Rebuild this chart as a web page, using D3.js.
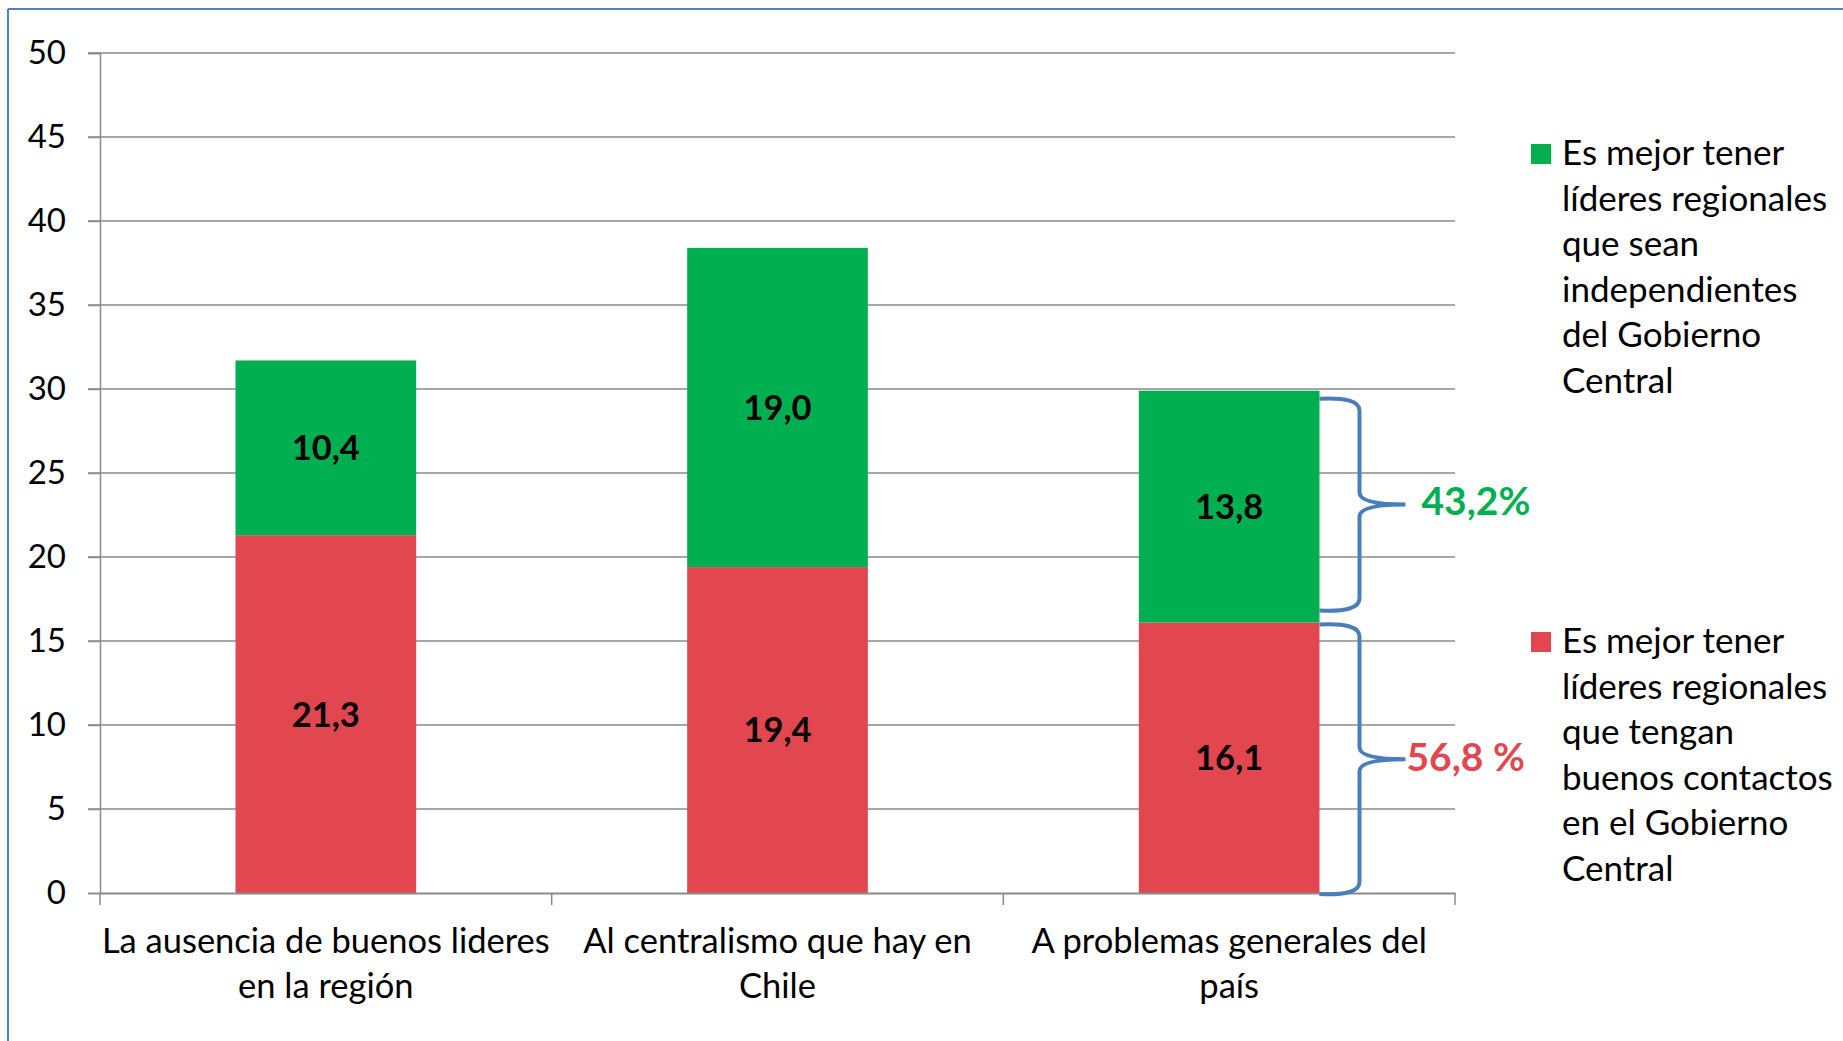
<!DOCTYPE html>
<html>
<head>
<meta charset="utf-8">
<script src="https://cdn.jsdelivr.net/npm/d3@7"></script>
<style>
  html, body { margin: 0; padding: 0; background: #fff; }
  svg { display: block; }
  text { font-family: Lato, "Open Sans", sans-serif; fill: #000; }
</style>
</head>
<body>
<svg id="chart" width="1843" height="1041"></svg>
<script>
// ---- data ----
const categories = [
  ["La ausencia de buenos lideres", "en la región"],
  ["Al centralismo que hay en", "Chile"],
  ["A problemas generales del", "país"]
];
const contactos = [21.3, 19.4, 16.1];       // red series (bottom)
const independientes = [10.4, 19.0, 13.8];  // green series (top)
const yTicks = [0, 5, 10, 15, 20, 25, 30, 35, 40, 45, 50];
const legendIndependientes = ["Es mejor tener", "líderes regionales", "que sean", "independientes", "del Gobierno", "Central"];
const legendContactos = ["Es mejor tener", "líderes regionales", "que tengan", "buenos contactos", "en el Gobierno", "Central"];
const pctIndependientes = "43,2%";
const pctContactos = "56,8 %";

const GREEN = "#00AF50", RED = "#E2464F", BLUE = "#4A7EBB", GRID = "#8a8a8a";
const fmt = v => d3.format(".1f")(v).replace(".", ",");

const svg = d3.select("#chart");

// outer frame (top and left edges visible)
svg.append("line").attr("x1", 8).attr("x2", 1843).attr("y1", 9).attr("y2", 9)
  .attr("stroke", "#4F81BD").attr("stroke-width", 2);
svg.append("line").attr("x1", 8).attr("x2", 8).attr("y1", 9).attr("y2", 1041)
  .attr("stroke", "#4F81BD").attr("stroke-width", 2);

const plot = { left: 100, right: 1455, top: 53, bottom: 893 };
const x = d3.scaleBand().domain(d3.range(categories.length))
  .range([plot.left, plot.right]).paddingInner(0).paddingOuter(0);
const y = d3.scaleLinear().domain([0, 50]).range([plot.bottom, plot.top]);
const barW = x.bandwidth() * 0.4;

// gridlines
const g = svg.append("g");
g.selectAll("line.grid").data(yTicks.filter(t => t > 0)).join("line")
  .attr("x1", plot.left - 12).attr("x2", plot.right)
  .attr("y1", d => y(d)).attr("y2", d => y(d))
  .attr("stroke", GRID).attr("stroke-width", 1.5);

// y axis
const yAxis = d3.axisLeft(y).tickValues(yTicks).tickSize(12).tickFormat(d3.format("d"));
const ya = svg.append("g").attr("transform", `translate(${plot.left},0)`).call(yAxis);
ya.select(".domain").attr("stroke", GRID).attr("stroke-width", 1.5);
ya.selectAll(".tick line").attr("stroke", GRID).attr("stroke-width", 1.5);
ya.selectAll(".tick text").attr("x", -34).attr("font-size", 33)
  .style("font-family", "Lato, sans-serif").attr("fill", "#000");

// bars
const stacks = categories.map((c, i) => ({ i, r: contactos[i], gr: independientes[i] }));
svg.append("g").selectAll("rect.red").data(stacks).join("rect")
  .attr("x", d => x(d.i) + (x.bandwidth() - barW) / 2)
  .attr("width", barW)
  .attr("y", d => y(d.r)).attr("height", d => y(0) - y(d.r))
  .attr("fill", RED);
svg.append("g").selectAll("rect.green").data(stacks).join("rect")
  .attr("x", d => x(d.i) + (x.bandwidth() - barW) / 2)
  .attr("width", barW)
  .attr("y", d => y(d.r + d.gr)).attr("height", d => y(d.r) - y(d.r + d.gr))
  .attr("fill", GREEN);

// x axis
const xAxis = d3.axisBottom(x).tickValues([]).tickSizeOuter(0);
const xa = svg.append("g").attr("transform", `translate(0,${plot.bottom})`).call(xAxis);
xa.select(".domain").attr("stroke", GRID).attr("stroke-width", 2);
const bounds = d3.range(categories.length + 1).map(i => i < categories.length ? x(i) : x(i - 1) + x.bandwidth());
svg.append("g").selectAll("line").data(bounds).join("line")
  .attr("x1", d => d).attr("x2", d => d)
  .attr("y1", plot.bottom).attr("y2", plot.bottom + 12)
  .attr("stroke", GRID).attr("stroke-width", 1.5);

// category labels
const cl = svg.append("g").selectAll("text").data(categories).join("text")
  .attr("text-anchor", "middle").attr("font-size", 34.5);
cl.each(function(lines, i) {
  d3.select(this).selectAll("tspan").data(lines).join("tspan")
    .attr("x", x(i) + x.bandwidth() / 2)
    .attr("y", (d, j) => 953 + j * 45)
    .text(d => d);
});

// data labels
const labG = svg.append("g").attr("font-size", 34.5).attr("font-weight", "bold").attr("text-anchor", "middle");
labG.selectAll("text.r").data(stacks).join("text")
  .attr("x", d => x(d.i) + x.bandwidth() / 2)
  .attr("y", d => y(d.r / 2)).attr("dy", "0.36em").text(d => fmt(d.r));
labG.selectAll("text.g").data(stacks).join("text")
  .attr("x", d => x(d.i) + x.bandwidth() / 2)
  .attr("y", d => y(d.r + d.gr / 2)).attr("dy", "0.36em").text(d => fmt(d.gr));

// braces on third bar
const last = stacks[2];
const x0 = x(2) + (x.bandwidth() + barW) / 2;
function brace(yt, yb, xv, xt) {
  const ym = (yt + yb) / 2, r = 12;
  return `M${x0},${yt} Q${xv},${yt - 2} ${xv},${yt + r} L${xv},${ym - r} Q${xv},${ym} ${xt},${ym}` +
         ` Q${xv},${ym} ${xv},${ym + r} L${xv},${yb - r} Q${xv},${yb + 2} ${x0},${yb}`;
}
const xv = x0 + 40, xt = x0 + 86;
svg.append("path").attr("d", brace(y(last.r + last.gr) + 8, y(last.r) - 12, xv, xt))
  .attr("fill", "none").attr("stroke", BLUE).attr("stroke-width", 4);
svg.append("path").attr("d", brace(y(last.r) + 2, y(0) + 1, xv, xt))
  .attr("fill", "none").attr("stroke", BLUE).attr("stroke-width", 4);

svg.append("text").attr("x", xt + 16).attr("y", y(last.r + last.gr / 2) - 6).attr("dy", "0.36em")
  .attr("font-size", 39).attr("font-weight", "bold").attr("fill", GREEN).style("fill", GREEN)
  .text(pctIndependientes);
svg.append("text").attr("x", xt + 1).attr("y", y(last.r / 2) - 1).attr("dy", "0.36em")
  .attr("font-size", 39).attr("font-weight", "bold").attr("fill", RED).style("fill", RED)
  .text(pctContactos);

// legend
const legends = [
  { color: GREEN, lines: legendIndependientes, base: 165 },
  { color: RED, lines: legendContactos, base: 653 }
];
const lg = svg.append("g").selectAll("g").data(legends).join("g");
lg.append("rect").attr("x", 1531).attr("y", d => d.base - 21).attr("width", 20).attr("height", 20)
  .attr("fill", d => d.color);
lg.append("text").attr("font-size", 35).each(function(d) {
  d3.select(this).selectAll("tspan").data(d.lines).join("tspan")
    .attr("x", 1562).attr("y", (t, j) => d.base + j * 45.5).text(t => t);
});
</script>
</body>
</html>
